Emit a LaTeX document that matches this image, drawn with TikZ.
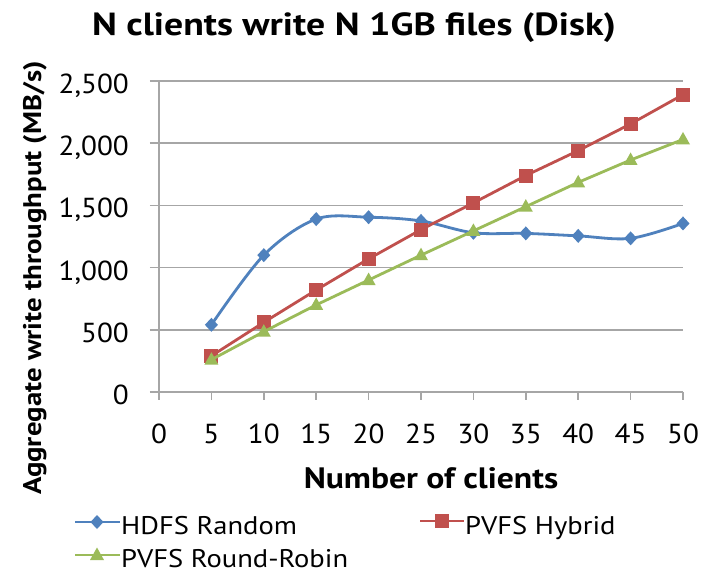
\documentclass[tikz,border=0pt]{standalone}
\usepackage{fontspec}
\usepackage{graphicx}
\setmainfont{PT Sans}
\definecolor{hdfs}{HTML}{4F81BD}
\definecolor{hybrid}{HTML}{C0504D}
\definecolor{rrobin}{HTML}{9BBB59}
\definecolor{gridgray}{HTML}{A6A6A6}
\tikzset{
  gridline/.style={draw=gridgray, line width=1.6pt},
  series/.style={line width=2.8pt, line join=round, line cap=round},
  ticklabel/.style={font=\fontsize{27.5}{30}\selectfont, inner sep=0pt},
  boldlabel/.style={font=\bfseries\fontsize{29.5}{32}\selectfont, inner sep=0pt},
  legendtext/.style={font=\fontsize{25.5}{28}\selectfont, inner sep=0pt, anchor=base west},
}
% horizontally widened text
\newcommand{\wide}[2]{\scalebox{#1}[1]{#2}}
% markers, sizes in pt
\newcommand{\dmark}[2]{\fill[#2] (#1) ++(0,7pt) -- ++(6.5pt,-7pt) -- ++(-6.5pt,-7pt) -- ++(-6.5pt,7pt) -- cycle;}
\newcommand{\smark}[2]{\fill[#2] (#1) ++(-7pt,-7pt) rectangle ++(14pt,14pt);}
\newcommand{\tmark}[2]{\fill[#2] (#1) ++(0,7.5pt) -- ++(7pt,-12.5pt) -- ++(-14pt,0) -- cycle;}
\begin{document}
\begin{tikzpicture}[x=1pt, y=-1pt]
\useasboundingbox[fill=white] (0,0) rectangle (712,573);

% title and axis titles
\node[boldlabel, font=\bfseries\fontsize{32}{34}\selectfont, anchor=base] (title) at (354,35) {\wide{1.18}{N clients write N 1GB files (Disk)}};
\node[boldlabel, anchor=base] (xtitle) at (431,488) {\wide{1.14}{Number of clients}};
\node[boldlabel, font=\bfseries\fontsize{25.5}{28}\selectfont, anchor=base, rotate=90] (ytitle) at (41,278) {\wide{1.13}{Aggregate write throughput (MB/s)}};

% plot area
\begin{scope}[shift={(159,392)}, x=10.48pt, y=0.1244pt]
  % horizontal gridlines, axes and ticks
  \foreach \v in {500,1000,1500,2000,2500} {
    \draw[gridline] (-0.86,\v) -- (50,\v);
  }
  \draw[gridline] (0,0) -- (0,2500);
  \draw[gridline] (-0.86,0) -- (50,0);
  \foreach \n in {0,5,...,50} {
    \draw[gridline] (\n,0) -- ++(0,-8pt);
    \node[ticklabel, anchor=base] (xl\n) at ([yshift=-51pt]\n,0) {\wide{1.06}{\n}};
  }
  \foreach \v/\t in {0/0, 500/500, 1000/{1,000}, 1500/{1,500}, 2000/{2,000}, 2500/{2,500}} {
    \node[ticklabel, anchor=base east] (yl\v) at ([xshift=-30pt, yshift=-12.5pt]0,\v) {\wide{1.06}{\t}};
  }

  % HDFS Random (smoothed)
  \draw[series, hdfs] plot[smooth, tension=0.55] coordinates {
    (5,540) (10,1100) (15,1390) (20,1405) (25,1375) (30,1280) (35,1275) (40,1255) (45,1235) (50,1355)};
  \foreach \n/\v in {5/540,10/1100,15/1390,20/1405,25/1375,30/1280,35/1275,40/1255,45/1235,50/1355} {
    \dmark{\n,\v}{hdfs}
  }

  % PVFS Hybrid
  \draw[series, hybrid] plot coordinates {
    (5,290) (10,560) (15,820) (20,1070) (25,1305) (30,1520) (35,1740) (40,1940) (45,2155) (50,2390)};
  \foreach \n/\v in {5/290,10/560,15/820,20/1070,25/1305,30/1520,35/1740,40/1940,45/2155,50/2390} {
    \smark{\n,\v}{hybrid}
  }

  % PVFS Round-Robin
  \draw[series, rrobin] plot coordinates {
    (5,260) (10,485) (15,700) (20,900) (25,1100) (30,1295) (35,1490) (40,1685) (45,1865) (50,2030)};
  \foreach \n/\v in {5/260,10/485,15/700,20/900,25/1100,30/1295,35/1490,40/1685,45/1865,50/2030} {
    \tmark{\n,\v}{rrobin}
  }
\end{scope}

% legend
\coordinate (la1) at (75,522);  \coordinate (lb1) at (120,522);
\draw[series, line cap=butt, hdfs] (la1) -- (lb1);
\dmark{97,522}{hdfs}
\node[legendtext] (leg1) at (121,534) {\wide{1.12}{HDFS Random}};

\coordinate (la2) at (420,521); \coordinate (lb2) at (464,521);
\draw[series, line cap=butt, hybrid] (la2) -- (lb2);
\smark{442,521}{hybrid}
\node[legendtext] (leg2) at (465,534) {\wide{1.12}{PVFS Hybrid}};

\coordinate (la3) at (75,555);  \coordinate (lb3) at (120,555);
\draw[series, line cap=butt, rrobin] (la3) -- (lb3);
\tmark{97,555}{rrobin}
\node[legendtext] (leg3) at (121,567) {\wide{1.12}{PVFS Round-Robin}};
\end{tikzpicture}
\end{document}
